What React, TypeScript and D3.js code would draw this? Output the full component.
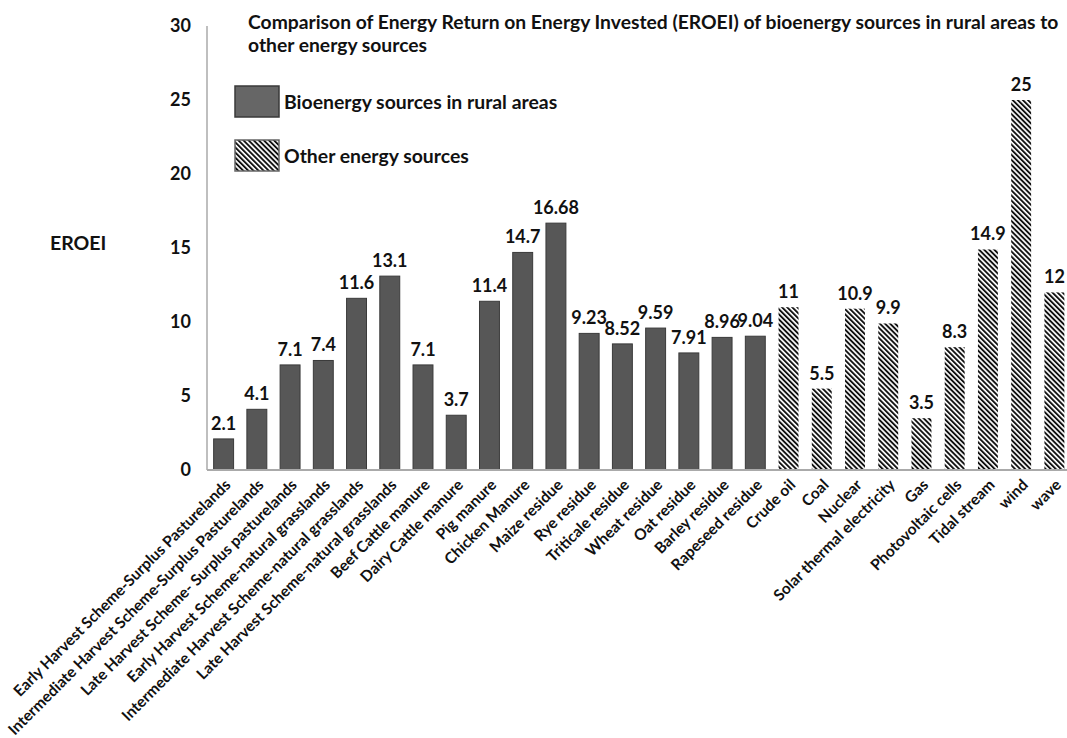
import { useEffect, useRef } from 'react'
import * as d3 from 'd3'

const bioCategories = [
  'Early Harvest Scheme-Surplus Pasturelands',
  'Intermediate Harvest Scheme-Surplus Pasturelands',
  'Late Harvest Scheme- Surplus pasturelands',
  'Early Harvest Scheme-natural grasslands',
  'Intermediate Harvest Scheme-natural grasslands',
  'Late Harvest Scheme-natural grasslands',
  'Beef Cattle manure',
  'Dairy Cattle manure',
  'Pig manure',
  'Chicken Manure',
  'Maize residue',
  'Rye residue',
  'Triticale residue',
  'Wheat residue',
  'Oat residue',
  'Barley residue',
  'Rapeseed residue',
]
const bioValues = [2.1, 4.1, 7.1, 7.4, 11.6, 13.1, 7.1, 3.7, 11.4, 14.7, 16.68, 9.23, 8.52, 9.59, 7.91, 8.96, 9.04]

const otherCategories = ['Crude oil', 'Coal', 'Nuclear', 'Solar thermal electricity', 'Gas', 'Photovoltaic cells', 'Tidal stream', 'wind', 'wave']
const otherValues = [11, 5.5, 10.9, 9.9, 3.5, 8.3, 14.9, 25, 12]

const yTicks = [0, 5, 10, 15, 20, 25, 30]
const titleLines = [
  'Comparison of Energy Return on Energy Invested (EROEI) of bioenergy sources in rural areas to',
  'other energy sources',
]
const legendLabels = ['Bioenergy sources in rural areas', 'Other energy sources']

export default function App() {
  const svgRef = useRef<SVGSVGElement>(null)

  useEffect(() => {
    if (!svgRef.current) return
    const svg = d3.select(svgRef.current)
    svg.selectAll('*').remove()

    const width = 1067
    const height = 738
    const font = 'Lato, "Open Sans", sans-serif'

    const data = [
      ...bioCategories.map((c, i) => ({ cat: c, value: bioValues[i], group: 'bio' })),
      ...otherCategories.map((c, i) => ({ cat: c, value: otherValues[i], group: 'other' })),
    ]

    svg.attr('width', width).attr('height', height).attr('viewBox', `0 0 ${width} ${height}`)

    const defs = svg.append('defs')
    const pat = defs.append('pattern')
      .attr('id', 'hatch')
      .attr('patternUnits', 'userSpaceOnUse')
      .attr('width', 3.6)
      .attr('height', 3.6)
      .attr('patternTransform', 'rotate(-45)')
    pat.append('rect').attr('width', 3.6).attr('height', 3.6).attr('fill', '#fff')
    pat.append('rect').attr('width', 1.9).attr('height', 3.6).attr('fill', '#111')

    const x = d3.scaleBand<string>()
      .domain(data.map(d => d.cat))
      .range([207, 1071])
      .paddingInner(0.4)
      .paddingOuter(0.2)

    const y = d3.scaleLinear().domain([0, 30]).range([470, 26])

    // y axis line and ticks
    svg.append('line')
      .attr('x1', 207).attr('x2', 207)
      .attr('y1', y(30)).attr('y2', y(0))
      .attr('stroke', '#aaa').attr('stroke-width', 1.5)

    svg.append('g')
      .selectAll('text')
      .data(yTicks)
      .join('text')
      .attr('x', 191)
      .attr('y', d => y(d))
      .attr('dy', '0.35em')
      .attr('text-anchor', 'end')
      .attr('font-family', font)
      .attr('font-weight', 'bold')
      .attr('font-size', 18)
      .attr('fill', '#111')
      .text(d => d)

    // bars
    svg.append('g')
      .selectAll('rect')
      .data(data)
      .join('rect')
      .attr('x', d => x(d.cat)!)
      .attr('y', d => y(d.value))
      .attr('width', x.bandwidth())
      .attr('height', d => y(0) - y(d.value))
      .attr('fill', d => (d.group === 'bio' ? '#575757' : 'url(#hatch)'))
      .attr('stroke', d => (d.group === 'bio' ? '#3a3a3a' : 'none'))
      .attr('stroke-width', 1)

    // x axis line
    svg.append('line')
      .attr('x1', 207).attr('x2', width)
      .attr('y1', y(0)).attr('y2', y(0))
      .attr('stroke', '#aaa').attr('stroke-width', 2)

    // value labels
    svg.append('g')
      .selectAll('text')
      .data(data)
      .join('text')
      .attr('x', d => x(d.cat)! + x.bandwidth() / 2)
      .attr('y', d => y(d.value) - 9)
      .attr('text-anchor', 'middle')
      .attr('font-family', font)
      .attr('font-weight', 'bold')
      .attr('font-size', 18)
      .attr('fill', '#111')
      .text(d => String(d.value))

    // category labels
    svg.append('g')
      .selectAll('text')
      .data(data)
      .join('text')
      .attr('transform', d => `translate(${x(d.cat)! + x.bandwidth() / 2 + 4},${y(0) + 12}) rotate(-45)`)
      .attr('text-anchor', 'end')
      .attr('dy', '0.35em')
      .attr('font-family', font)
      .attr('font-weight', 'bold')
      .attr('font-size', 15.5)
      .attr('fill', '#111')
      .text(d => d.cat)

    // title
    svg.append('g')
      .selectAll('text')
      .data(titleLines)
      .join('text')
      .attr('x', 248)
      .attr('y', (_, i) => 29 + i * 23)
      .attr('font-family', font)
      .attr('font-weight', 'bold')
      .attr('font-size', 19.3)
      .attr('fill', '#111')
      .text(d => d)

    // y label
    svg.append('text')
      .attr('x', 50)
      .attr('y', 250)
      .attr('font-family', font)
      .attr('font-weight', 'bold')
      .attr('font-size', 19.5)
      .attr('fill', '#111')
      .text('EROEI')

    // legend
    const legend = svg.append('g')
    legendLabels.forEach((label, i) => {
      const ly = 86 + i * 54
      legend.append('rect')
        .attr('x', 235).attr('y', ly)
        .attr('width', 44).attr('height', 31)
        .attr('fill', i === 0 ? '#666' : 'url(#hatch)')
        .attr('stroke', i === 0 ? '#3a3a3a' : '#666')
        .attr('stroke-width', 1.5)
      legend.append('text')
        .attr('x', 284).attr('y', ly + 16)
        .attr('dy', '0.35em')
        .attr('font-family', font)
        .attr('font-weight', 'bold')
        .attr('font-size', 19.4)
        .attr('fill', '#111')
        .text(label)
    })
  }, [])

  return (
    <div style={{ position: 'absolute', left: 0, top: 0, background: '#fff' }}>
      <svg ref={svgRef} style={{ display: 'block' }} />
    </div>
  )
}
